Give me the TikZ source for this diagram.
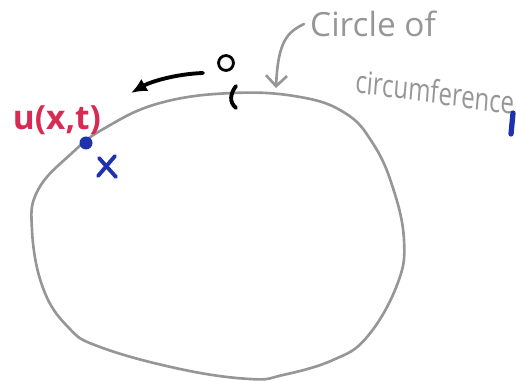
\documentclass[tikz,border=0pt]{standalone}
\usepackage{fontspec}
\setmainfont{Open Sans}
\usetikzlibrary{arrows.meta}

\definecolor{pencilgray}{RGB}{150,150,150}
\definecolor{markred}{RGB}{214,44,84}
\definecolor{markblue}{RGB}{30,50,175}

\begin{document}
\begin{tikzpicture}[x=0.02cm,y=-0.02cm,
    pencil/.style={draw=pencilgray,line width=1.5pt,line cap=round},
    marker/.style={line width=2.2pt,line cap=round}]

\useasboundingbox (0,0) rectangle (516,381);

% Circle of circumference
\draw[pencil] plot[smooth cycle,tension=0.7] coordinates {
    (233,93) (300,97) (345,113) (372,142) (392,185) (404,240)
    (397,285) (367,337) (333,360) (283,375) (250,379) (180,369)
    (100,347) (68,327) (43,288) (32,230) (38,190) (72,153)
    (105,128) (160,103)};

% Origin on the circle
\draw[marker,black] (236,86) .. controls (230,94) and (229,102) .. (236,108);
\node[draw,circle,line width=1.6pt,inner sep=3pt] (orig) at (226,63) {};

% Direction of travel
\coordinate (arrstart) at (203,73);
\coordinate (arrend) at (131,93);
\draw[marker,black,-{Latex[length=9pt,width=8pt]}] (arrstart) .. controls (175,74) and (150,82) .. (arrend);

% Label and pointer
\node[text=pencilgray,font=\fontsize{19}{19}\selectfont,anchor=west] (lblcircle) at (304,24) {Circle of};
\node[text=pencilgray,font=\fontsize{18}{18}\selectfont,anchor=west,xscale=0.76,rotate=-6] (lblcirc) at (351,80) {circumference};
\coordinate (ontop) at (276,88);
\draw[pencil,-{Straight Barb[length=6pt]}] (lblcircle.west) .. controls (288,32) and (278,40) .. (ontop);

% Point u(x,t)
\fill[markblue] (86,143) circle (6.5);
\node[text=markred,font=\fontsize{19}{19}\selectfont\bfseries] (uxt) at (57,120) {u(x,t)};

% Cross
\node (cross) at (107,167) {};
\draw[marker,markblue] (99,158) -- (116,177);
\draw[marker,markblue] (115,156) -- (98,176);

% Cut off mark at the right edge
\draw[marker,markblue,line width=3pt] (513,113) -- (511,134);

\end{tikzpicture}
\end{document}
